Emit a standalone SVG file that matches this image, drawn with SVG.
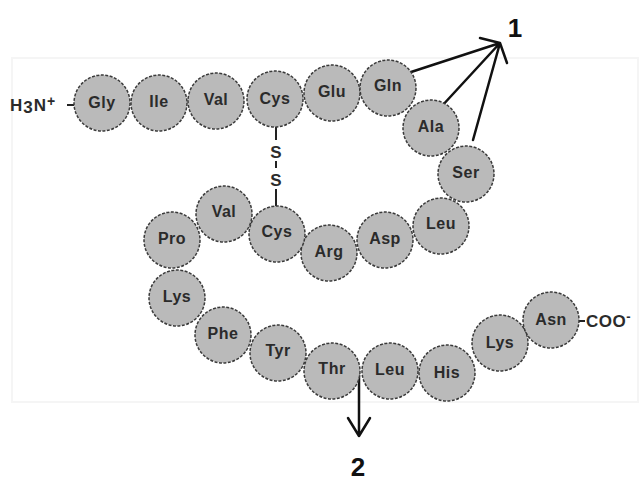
<svg xmlns="http://www.w3.org/2000/svg" width="641" height="482" viewBox="0 0 641 482">
<style>
.aa circle{fill:#bababa;stroke:#3a3a3a;stroke-width:1.5;stroke-dasharray:3 1.5}
.aa text{font-family:"Liberation Sans",Arial,sans-serif;font-size:16px;font-weight:bold;fill:#2b2b2b;text-anchor:middle;letter-spacing:0.5px}
.lbl{font-family:"Liberation Sans",Arial,sans-serif;font-size:17px;font-weight:bold;fill:#2b2b2b}
.num{font-family:"Liberation Sans",Arial,sans-serif;font-size:26px;font-weight:bold;fill:#111;text-anchor:middle}
.arr{stroke:#111;stroke-width:2.5;fill:none;stroke-linecap:round;stroke-linejoin:round}
.bond{stroke:#222;stroke-width:2;fill:none}
</style>
<rect x="0" y="0" width="641" height="482" fill="#fff"/>
<rect x="12" y="58" width="626" height="344" fill="none" stroke="#f5f5f5" stroke-width="2"/>
<g id="connectors">
<line class="bond" x1="276" y1="127" x2="276" y2="140"/>
<line class="bond" x1="276" y1="161" x2="276" y2="168"/>
<line class="bond" x1="276" y1="189" x2="276" y2="206"/>
<text class="lbl" x="276" y="158" text-anchor="middle">S</text>
<text class="lbl" x="276" y="186" text-anchor="middle">S</text>
<line class="bond" x1="67" y1="105" x2="74" y2="105"/>
<line class="bond" x1="579" y1="321" x2="585" y2="321"/>
<path class="arr" d="M408 73 L500 43 M441 107 L500 43 M473 140 L500 43 M480 38 L500 43 L507 63"/>
<path class="arr" d="M359 375 L359 436 M348 418 L359 436 L370 418"/>
</g>
<text class="lbl" x="10" y="111" font-size="19" letter-spacing="1">H<tspan font-size="17" dy="2">3</tspan><tspan dy="-2">N</tspan><tspan font-size="14" dy="-5">+</tspan></text>
<text class="lbl" x="586" y="327" font-size="17" letter-spacing="0.5">COO<tspan font-size="13" dy="-6">-</tspan></text>
<text class="num" x="515" y="37">1</text>
<text class="num" x="358" y="476">2</text>
<g id="gly" class="aa"><circle cx="102" cy="103" r="28"/><text x="102" y="108">Gly</text></g>
<g id="ile" class="aa"><circle cx="159" cy="103" r="28"/><text x="159" y="107">Ile</text></g>
<g id="val1" class="aa"><circle cx="216" cy="101" r="28"/><text x="216" y="105">Val</text></g>
<g id="cys1" class="aa"><circle cx="275" cy="99" r="28"/><text x="275" y="104">Cys</text></g>
<g id="glu" class="aa"><circle cx="332" cy="93" r="28"/><text x="332" y="97">Glu</text></g>
<g id="gln" class="aa"><circle cx="388" cy="88" r="28"/><text x="388" y="91">Gln</text></g>
<g id="ala" class="aa"><circle cx="431" cy="128" r="28"/><text x="431" y="132">Ala</text></g>
<g id="ser" class="aa"><circle cx="466" cy="174" r="28"/><text x="466" y="178">Ser</text></g>
<g id="leu1" class="aa"><circle cx="441" cy="226" r="28"/><text x="441" y="229">Leu</text></g>
<g id="asp" class="aa"><circle cx="385" cy="240" r="28"/><text x="385" y="244">Asp</text></g>
<g id="arg" class="aa"><circle cx="329" cy="253" r="28"/><text x="329" y="257">Arg</text></g>
<g id="cys2" class="aa"><circle cx="277" cy="234" r="28"/><text x="277" y="237">Cys</text></g>
<g id="val2" class="aa"><circle cx="224" cy="214" r="28"/><text x="224" y="217">Val</text></g>
<g id="pro" class="aa"><circle cx="172" cy="240" r="28"/><text x="172" y="244">Pro</text></g>
<g id="lys1" class="aa"><circle cx="177" cy="298" r="28"/><text x="177" y="302">Lys</text></g>
<g id="phe" class="aa"><circle cx="223" cy="335" r="28"/><text x="223" y="339">Phe</text></g>
<g id="tyr" class="aa"><circle cx="278" cy="353" r="28"/><text x="278" y="356">Tyr</text></g>
<g id="thr" class="aa"><circle cx="332" cy="371" r="28"/><text x="332" y="374">Thr</text></g>
<g id="leu2" class="aa"><circle cx="390" cy="371" r="28"/><text x="390" y="375">Leu</text></g>
<g id="his" class="aa"><circle cx="447" cy="373" r="28"/><text x="447" y="378">His</text></g>
<g id="lys2" class="aa"><circle cx="500" cy="343" r="28"/><text x="500" y="348">Lys</text></g>
<g id="asn" class="aa"><circle cx="551" cy="320" r="28"/><text x="551" y="325">Asn</text></g>
</svg>
